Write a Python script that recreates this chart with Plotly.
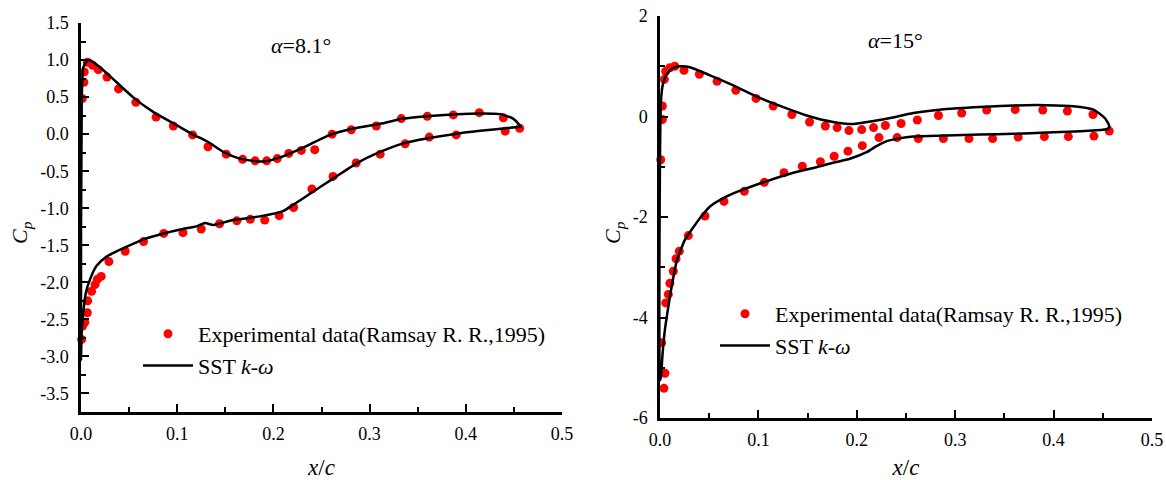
import plotly.graph_objects as go

# ---------------- alpha = 8.1 deg ----------------
# experimental points, pressure side (leading edge -> trailing edge)
exp81_ps_x = [0.0014, 0.003, 0.0034, 0.0066, 0.012, 0.018, 0.027, 0.039, 0.057, 0.078,
              0.096, 0.116, 0.132, 0.151, 0.168, 0.181, 0.193, 0.204, 0.216, 0.229,
              0.243, 0.261, 0.281, 0.307, 0.333, 0.360, 0.387, 0.414, 0.439, 0.456]
exp81_ps_cp = [0.48, 0.70, 0.84, 0.97, 0.93, 0.87, 0.77, 0.61, 0.43, 0.23,
               0.11, -0.01, -0.17, -0.27, -0.34, -0.36, -0.36, -0.33, -0.26, -0.22,
               -0.21, 0.00, 0.06, 0.11, 0.21, 0.24, 0.26, 0.29, 0.22, 0.08]
# experimental points, suction side
exp81_ss_x = [0.0007, 0.0017, 0.004, 0.0066, 0.007, 0.011, 0.0146, 0.017, 0.021, 0.029,
              0.046, 0.065, 0.086, 0.106, 0.125, 0.144, 0.162, 0.176, 0.191, 0.206,
              0.221, 0.240, 0.262, 0.286, 0.311, 0.337, 0.362, 0.390, 0.441]
exp81_ss_cp = [-2.77, -2.59, -2.54, -2.41, -2.25, -2.12, -2.03, -1.96, -1.92, -1.72,
               -1.58, -1.45, -1.34, -1.33, -1.28, -1.21, -1.17, -1.15, -1.16, -1.10,
               -0.99, -0.74, -0.57, -0.39, -0.27, -0.13, -0.04, -0.01, 0.04]
# SST k-omega, pressure side
sst81_ps_x = [0.0008, 0.0024, 0.0066, 0.009, 0.02, 0.037, 0.054, 0.075, 0.0995, 0.117,
              0.127, 0.134, 0.148, 0.165, 0.19, 0.21, 0.228, 0.259, 0.283, 0.311,
              0.335, 0.363, 0.391, 0.415, 0.436, 0.449, 0.456, 0.457]
sst81_ps_cp = [0.50, 0.90, 0.995, 1.00, 0.90, 0.70, 0.50, 0.30, 0.12, -0.01,
               -0.07, -0.12, -0.24, -0.33, -0.37, -0.30, -0.20, -0.01, 0.076, 0.14,
               0.21, 0.246, 0.27, 0.278, 0.27, 0.21, 0.12, 0.10]
# SST k-omega, suction side
sst81_ss_x = [0.0, 0.0007, 0.0024, 0.005, 0.0094, 0.016, 0.027, 0.044, 0.065, 0.089,
              0.106, 0.120, 0.129, 0.1375, 0.158, 0.186, 0.210, 0.221, 0.2415, 0.262,
              0.287, 0.311, 0.335, 0.359, 0.387, 0.415, 0.449, 0.457]
sst81_ss_cp = [-3.05, -2.68, -2.41, -2.14, -1.96, -1.78, -1.65, -1.54, -1.42, -1.33,
               -1.28, -1.245, -1.20, -1.225, -1.16, -1.11, -1.04, -0.95, -0.775, -0.60,
               -0.39, -0.24, -0.125, -0.06, 0.0, 0.045, 0.09, 0.10]

# ---------------- alpha = 15 deg ----------------
exp15_ps_x = [0.0007, 0.0024, 0.0024, 0.0044, 0.0058, 0.010, 0.015, 0.0244, 0.040, 0.058,
              0.077, 0.0976, 0.115, 0.134, 0.152, 0.168, 0.180, 0.192, 0.205, 0.217,
              0.229, 0.245, 0.2615, 0.283, 0.3066, 0.332, 0.361, 0.389, 0.414, 0.440, 0.4566]
exp15_ps_cp = [-0.86, -0.06, 0.21, 0.74, 0.90, 0.97, 1.00, 0.92, 0.84, 0.70,
               0.52, 0.36, 0.21, 0.04, -0.11, -0.19, -0.22, -0.28, -0.26, -0.22,
               -0.18, -0.14, -0.07, 0.02, 0.07, 0.13, 0.14, 0.13, 0.11, 0.04, -0.29]
exp15_ss_x = [0.004, 0.005, 0.0017, 0.0058, 0.0085, 0.010, 0.0135, 0.0163, 0.0196, 0.0288,
              0.0457, 0.065, 0.0857, 0.106, 0.126, 0.1446, 0.163, 0.177, 0.191, 0.2056,
              0.2226, 0.241, 0.2625, 0.288, 0.314, 0.338, 0.364, 0.3906, 0.415, 0.441]
exp15_ss_cp = [-5.41, -5.11, -4.50, -3.71, -3.54, -3.32, -3.08, -2.83, -2.68, -2.37,
               -1.98, -1.69, -1.49, -1.31, -1.12, -0.99, -0.90, -0.79, -0.69, -0.58,
               -0.42, -0.42, -0.44, -0.44, -0.44, -0.44, -0.41, -0.40, -0.40, -0.39]
sst15_ps_x = [0.001, 0.003, 0.0068, 0.0119, 0.0203, 0.0305, 0.0508, 0.0745, 0.098, 0.122,
              0.149, 0.176, 0.1965, 0.217, 0.234, 0.2575, 0.291, 0.325, 0.359, 0.393,
              0.42, 0.440, 0.452, 0.4566, 0.4556]
sst15_ps_cp = [0.30, 0.65, 0.84, 0.95, 1.00, 0.98, 0.82, 0.62, 0.40, 0.21,
               0.02, -0.11, -0.15, -0.09, -0.03, 0.07, 0.15, 0.19, 0.22, 0.225,
               0.205, 0.14, -0.03, -0.19, -0.245]
sst15_ss_x = [0.0, 0.001, 0.0027, 0.005, 0.0085, 0.0119, 0.017, 0.0254, 0.0305, 0.0407,
              0.0508, 0.0678, 0.0847, 0.108, 0.1355, 0.159, 0.176, 0.193, 0.210, 0.220,
              0.2304, 0.242, 0.2575, 0.291, 0.325, 0.359, 0.393, 0.440, 0.4556]
sst15_ss_cp = [-5.25, -5.17, -4.70, -4.24, -3.78, -3.38, -2.88, -2.45, -2.30, -2.02,
               -1.79, -1.59, -1.45, -1.29, -1.12, -1.01, -0.92, -0.84, -0.71, -0.59,
               -0.49, -0.44, -0.40, -0.38, -0.36, -0.345, -0.32, -0.28, -0.245]

# axis ticks (labels use a plain hyphen for negatives)
y81_ticks = [-3.5, -3.0, -2.5, -2.0, -1.5, -1.0, -0.5, 0.0, 0.5, 1.0, 1.5]
y15_ticks = [-6, -4, -2, 0, 2]
x_ticks = [0.0, 0.1, 0.2, 0.3, 0.4, 0.5]

EXP_NAME = "Experimental data(Ramsay R. R.,1995)"
SST_NAME = "SST <i>k</i>-<i>ω</i>"
FONT = "Liberation Serif, Times New Roman, serif"
W, H = 1166, 480


def loop(ps_x, ps_cp, ss_x, ss_cp):
    """Closed surface curve: trailing edge -> pressure side -> leading edge -> suction side."""
    return ps_x[::-1] + ss_x, ps_cp[::-1] + ss_cp


def fmt(vals, digits):
    return [f"{v:.{digits}f}" for v in vals]


fig = go.Figure()

panels = [
    dict(xa="x", ya="y", lg="legend",
         ex=exp81_ps_x + exp81_ss_x, ey=exp81_ps_cp + exp81_ss_cp,
         curve=loop(sst81_ps_x, sst81_ps_cp, sst81_ss_x, sst81_ss_cp)),
    dict(xa="x2", ya="y2", lg="legend2",
         ex=exp15_ps_x + exp15_ss_x, ey=exp15_ps_cp + exp15_ss_cp,
         curve=loop(sst15_ps_x, sst15_ps_cp, sst15_ss_x, sst15_ss_cp)),
]

for p in panels:
    fig.add_trace(go.Scatter(
        x=p["ex"], y=p["ey"], mode="markers", name=EXP_NAME,
        marker=dict(color="#ff0000", size=9), cliponaxis=False,
        xaxis=p["xa"], yaxis=p["ya"], legend=p["lg"]))
    cx, cy = p["curve"]
    fig.add_trace(go.Scatter(
        x=cx, y=cy, mode="lines", name=SST_NAME,
        line=dict(color="black", width=2.5, shape="spline", smoothing=0.6),
        cliponaxis=False, xaxis=p["xa"], yaxis=p["ya"], legend=p["lg"]))

tickfont = dict(family=FONT, size=18, color="black")
common = dict(showline=True, linecolor="black", linewidth=2.5, mirror=False,
              ticks="inside", ticklen=8, tickwidth=2, tickcolor="black",
              showgrid=False, zeroline=False, tickfont=tickfont, fixedrange=True,
              automargin=False)


def minor(d):
    return dict(dtick=d, ticks="inside", ticklen=5, tickwidth=2, tickcolor="black")


def xdom(a, b):
    return [a / W, b / W]


def ydom(top, bottom):
    return [1 - bottom / H, 1 - top / H]


xtitle = dict(text="<i>x</i>/<i>c</i>", font=dict(family=FONT, size=23), standoff=18)
legend_style = dict(xanchor="left", yanchor="top", bgcolor="rgba(0,0,0,0)",
                    font=dict(family=FONT, size=22, color="black"),
                    tracegroupgap=0, itemwidth=50)

fig.update_layout(
    width=W, height=H,
    margin=dict(l=0, r=0, t=0, b=0, pad=0, autoexpand=False),
    paper_bgcolor="white", plot_bgcolor="white",
    font=dict(family=FONT, color="black"),
    xaxis=dict(domain=xdom(81, 562), range=[0, 0.5], tickvals=x_ticks, ticktext=fmt(x_ticks, 1),
               minor=minor(0.05), anchor="y", title=xtitle, ticklabelstandoff=4, **common),
    yaxis=dict(domain=ydom(23, 412), range=[-3.75, 1.5], tickvals=y81_ticks,
               ticktext=fmt(y81_ticks, 1), minor=minor(0.25), anchor="x",
               ticklabelstandoff=6, **common),
    xaxis2=dict(domain=xdom(660, 1152), range=[0, 0.5], tickvals=x_ticks, ticktext=fmt(x_ticks, 1),
                minor=minor(0.05), anchor="y2", title=xtitle, ticklabelstandoff=4, **common),
    yaxis2=dict(domain=ydom(16, 418), range=[-6, 2], tickvals=y15_ticks,
                ticktext=fmt(y15_ticks, 0), minor=minor(1), anchor="x2",
                ticklabelstandoff=6, **common),
    legend=dict(x=138 / W, y=1 - 313 / H, **legend_style),
    legend2=dict(x=715 / W, y=1 - 293 / H, **legend_style),
    showlegend=True,
)

labels = [
    ("<i>α</i>=8.1°", 301, 45, 0, 22),
    ("<i>α</i>=15°", 895, 40, 0, 22),
    ("<i>C</i><sub><i>p</i></sub>", 21, 233, -90, 22),
    ("<i>C</i><sub><i>p</i></sub>", 614, 233, -90, 22),
]
for text, px, py, ang, size in labels:
    fig.add_annotation(text=text, x=px / W, y=1 - py / H, xref="paper", yref="paper",
                       xanchor="center", yanchor="middle", showarrow=False,
                       textangle=ang, font=dict(family=FONT, size=size, color="black"))

fig.write_html("out.html")
